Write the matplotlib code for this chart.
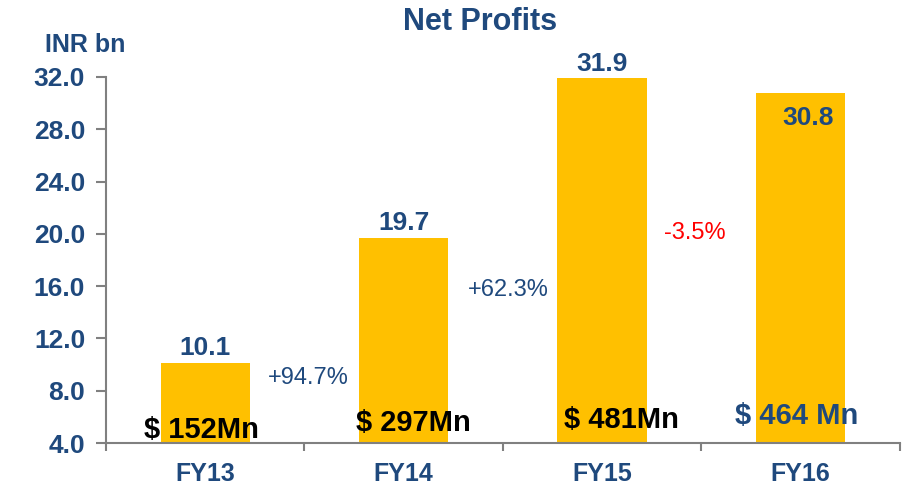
import matplotlib
matplotlib.use("Agg")
import matplotlib.pyplot as plt

categories = ["FY13", "FY14", "FY15", "FY16"]
profits = [10.1, 19.7, 31.9, 30.8]
usd_labels = ["$ 152Mn", "$ 297Mn", "$ 481Mn", "$ 464 Mn"]
growth_labels = ["+94.7%", "+62.3%", "-3.5%"]
yticks = [4.0, 8.0, 12.0, 16.0, 20.0, 24.0, 28.0, 32.0]

BLUE = "#1F497D"
GOLD = "#FFC000"
plt.rcParams["font.family"] = ["Liberation Sans", "DejaVu Sans"]

fig = plt.figure(figsize=(9.06, 4.99), dpi=100)
ax = fig.add_axes([0.117, 0.1122, 0.876, 0.7335])
x = list(range(len(categories)))
ax.bar(x, profits, width=0.45, color=GOLD, bottom=0, zorder=2)
ax.set_xlim(-0.5, 3.5)
ax.set_ylim(4, 32)
ax.set_yticks(yticks)
ax.set_yticklabels([f"{t:.1f}" for t in yticks], fontsize=19, fontweight="bold", color=BLUE)
ax.set_xticks([i + 0.5 for i in range(-1, 4)], minor=False)
ax.set_xticklabels([])
ax.set_xticks(x, minor=True)
ax.set_xticklabels(categories, minor=True, fontsize=18, fontweight="bold", color=BLUE)
ax.tick_params(axis="x", which="minor", length=0, pad=14)
ax.tick_params(axis="x", which="major", length=6, width=1.5, color="#808080", direction="out")
ax.tick_params(axis="y", length=7, width=1.5, color="#808080", direction="out", pad=8)
for s in ["top", "right"]:
    ax.spines[s].set_visible(False)
for s in ["left", "bottom"]:
    ax.spines[s].set_color("#808080")
    ax.spines[s].set_linewidth(1.5)

# value labels
for i in range(3):
    ax.annotate(f"{profits[i]:.1f}", (x[i], profits[i]), xytext=(0, 2),
                textcoords="offset points", ha="center", va="bottom",
                fontsize=19, fontweight="bold", color=BLUE)
ax.text(3.04, 28.9, f"{profits[3]:.1f}", ha="center", va="center",
        fontsize=19, fontweight="bold", color=BLUE)

# USD labels
usd_pos = [(-0.02, 5.0), (1.05, 5.5), (2.1, 5.76), (2.98, 6.07)]
usd_colors = ["black", "black", "black", BLUE]
for lab, (px, py), c in zip(usd_labels, usd_pos, usd_colors):
    ax.text(px, py, lab, ha="center", va="center", fontsize=21, fontweight="bold", color=c, zorder=3)

# growth labels
g_pos = [(0.52, 9.0), (1.53, 15.7), (2.47, 20.1)]
g_colors = [BLUE, BLUE, "#FF0000"]
for lab, (px, py), c in zip(growth_labels, g_pos, g_colors):
    ax.text(px, py, lab, ha="center", va="center", fontsize=17, color=c)

fig.text(0.53, 0.956, "Net Profits", ha="center", va="center", fontsize=22, fontweight="bold", color=BLUE)
fig.text(0.094, 0.91, "INR bn", ha="center", va="center", fontsize=18, fontweight="bold", color=BLUE)

fig.savefig("out.png", dpi=100)
